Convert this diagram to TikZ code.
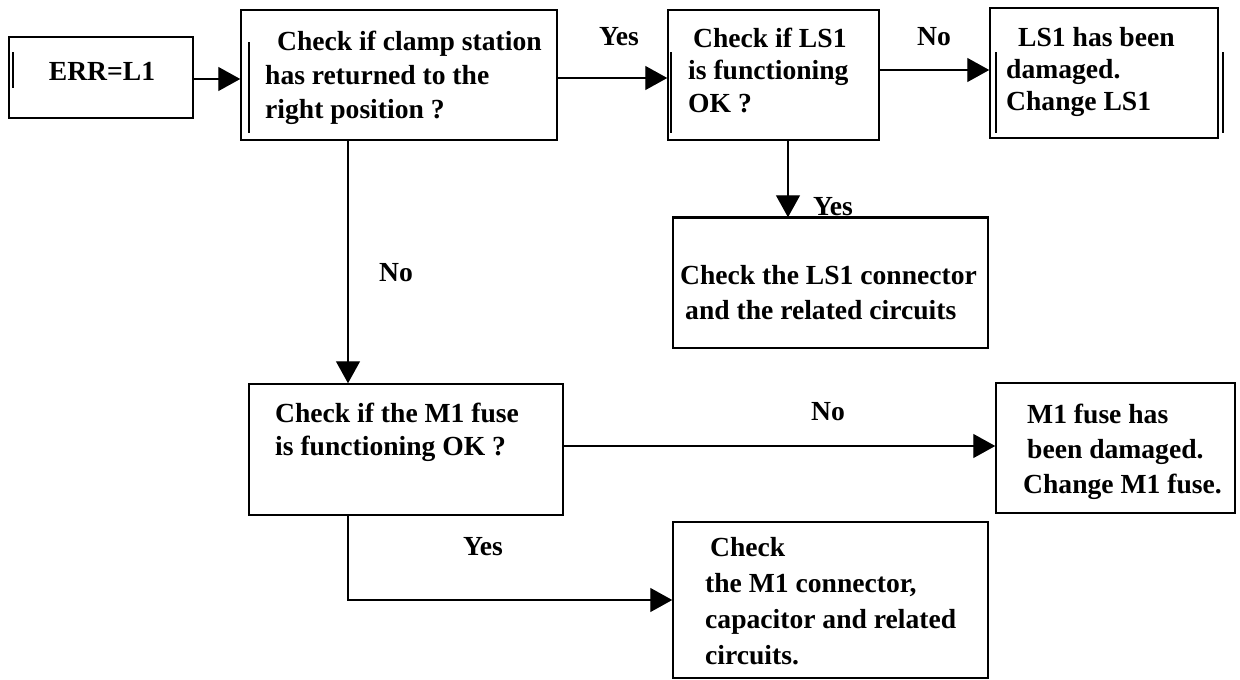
\documentclass[tikz,border=0pt]{standalone}
\usepackage{fontspec}
\setmainfont{Liberation Serif}
\usetikzlibrary{arrows.meta,calc}
\begin{document}
\begin{tikzpicture}[x=1pt,y=-1pt,
  box/.style={draw, line width=1.5pt, inner sep=0pt, rectangle},
  txt/.style={inner sep=0pt, anchor=north west, align=left, font=\fontsize{27.6}{34}\selectfont\bfseries},
  lbl/.style={inner sep=0pt, font=\fontsize{27.6}{34}\selectfont\bfseries},
  arr/.style={line width=1.4pt, -{Triangle[length=22pt,width=24pt]}},
  bar/.style={line width=1.4pt}]
\useasboundingbox (0,0) rectangle (1240,680);

% boxes
\node[box, minimum width=184pt, minimum height=81pt] (A) at (101,77.5) {};
\node[box, minimum width=316pt, minimum height=130pt] (B) at (399,75) {};
\node[box, minimum width=211pt, minimum height=130pt] (C) at (773.5,75) {};
\node[box, minimum width=228pt, minimum height=130pt] (D) at (1104,73) {};
\node[box, minimum width=315pt, minimum height=130pt] (E) at (830.5,283) {};
\node[box, minimum width=314pt, minimum height=131pt] (F) at (406,449.5) {};
\node[box, minimum width=239pt, minimum height=130pt] (G) at (1115.5,448) {};
\node[box, minimum width=315pt, minimum height=156pt] (H) at (830.5,600) {};
\draw[line width=3pt] (E.north west) -- (E.north east);

% inner bars
\draw[bar] (13,52) -- (13,88);
\draw[bar] (249,42) -- (249,133);
\draw[bar] (671,52) -- (671,133);
\draw[bar] (996,52) -- (996,133);
\draw[bar] (1223,52) -- (1223,133);

% texts
\node[lbl] (At) at (102,71) {ERR=L1};
\node[txt] (Bt) at (265,30.5) {\hspace*{12pt}Check if clamp station\\has returned to the\\right position ?};
\node[txt, font=\fontsize{27.6}{32.5}\selectfont\bfseries] (Ct) at (688,27.5) {\hspace*{5pt}Check if LS1\\is functioning\\OK ?};
\node[txt, font=\fontsize{27.6}{32}\selectfont\bfseries] (Dt) at (1006,27.5) {\hspace*{12pt}LS1 has been\\damaged.\\Change LS1};
\node[txt, font=\fontsize{27.6}{35}\selectfont\bfseries] (Et) at (680,265.5) {Check the LS1 connector\\\hspace*{5pt}and the related circuits};
\node[txt, font=\fontsize{27.6}{33}\selectfont\bfseries] (Ft) at (275,402.5) {Check if the M1 fuse\\is functioning OK ?};
\node[txt, font=\fontsize{27.6}{35}\selectfont\bfseries] (Gt) at (1023,403.5) {\hspace*{4pt}M1 fuse has\\\hspace*{4pt}been damaged.\\Change M1 fuse.};
\node[txt, font=\fontsize{27.6}{36}\selectfont\bfseries] (Ht) at (705,537.5) {\hspace*{5pt}Check\\the M1 connector,\\capacitor and related\\circuits.};

% labels
\node[lbl] (l1) at (619,37) {Yes};
\node[lbl] (l2) at (934,37) {No};
\node[lbl] (l3) at (833,207) {Yes};
\node[lbl] (l4) at (396,273) {No};
\node[lbl] (l5) at (828,412) {No};
\node[lbl] (l6) at (483,547) {Yes};

% connectors
\draw[arr] ([yshift=-1.5pt]A.east) -- ([yshift=-1.5pt]A.east -| B.west);
\draw[arr] ([yshift=-3pt]B.east) -- ([yshift=-3pt]B.east -| C.west);
\draw[arr] ([yshift=5pt]C.east) -- ([yshift=5pt]C.east -| D.west);
\draw[arr] ([xshift=14.5pt]C.south) -- ([xshift=14.5pt]C.south |- E.north);
\draw[arr] ([xshift=-51pt]B.south) -- ([xshift=-51pt]B.south |- F.north);
\draw[arr] ([yshift=3.5pt]F.east) -- ([yshift=3.5pt]F.east -| G.west);
\draw[arr] ([xshift=-58pt]F.south) |- (H.west);
\end{tikzpicture}
\end{document}
